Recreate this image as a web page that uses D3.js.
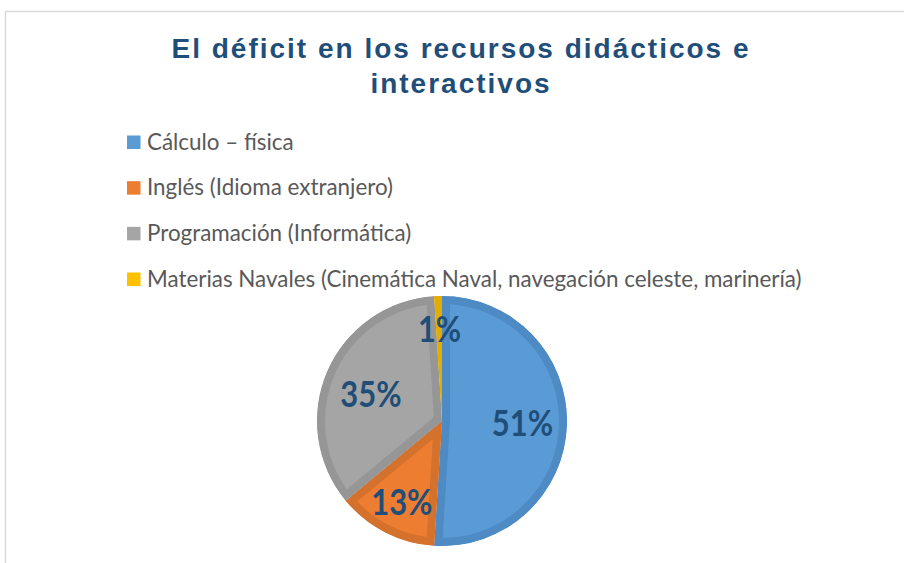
<!DOCTYPE html>
<html>
<head>
<meta charset="utf-8">
<script src="https://cdn.jsdelivr.net/npm/d3@7"></script>
<style>
  html, body { margin: 0; padding: 0; background: #fff; }
  svg { display: block; }
</style>
</head>
<body>
<svg id="chart" width="904" height="563"></svg>
<script>
// Categories and shares (percent)
const categories = [
  "Cálculo – física",
  "Inglés (Idioma extranjero)",
  "Programación (Informática)",
  "Materias Navales (Cinemática Naval, navegación celeste, marinería)"
];
const values = [51, 13, 35, 1];
const fillColors = ["#5B9BD5", "#ED7D31", "#A5A5A5", "#FFC000"];
const edgeColors = ["#4E8AC3", "#D3712D", "#969696", "#E3AC00"];
const titleLines = ["El déficit en los recursos didácticos e", "interactivos"];

const svg = d3.select("#chart");

// chart frame
svg.append("rect")
  .attr("x", 5.5).attr("y", 11.5)
  .attr("width", 920).attr("height", 600)
  .attr("fill", "#fff").attr("stroke", "#D9D9D9").attr("stroke-width", 1.5);

// title
svg.append("text")
  .attr("text-anchor", "middle")
  .attr("font-family", "Liberation Sans, Arial, sans-serif")
  .attr("font-weight", "bold")
  .attr("font-size", 28)
  .attr("letter-spacing", 2)
  .attr("fill", "#1F4E79")
  .selectAll("tspan").data(titleLines).join("tspan")
  .attr("x", 461)
  .attr("y", (d, i) => 58 + i * 35)
  .text(d => d);

// legend
const legend = svg.append("g").attr("transform", "translate(127,0)");
const rowY = d3.scalePoint().domain(d3.range(categories.length)).range([142, 279]);
const rows = legend.selectAll("g").data(categories).join("g")
  .attr("transform", (d, i) => `translate(0,${rowY(i)})`);
rows.append("rect")
  .attr("x", 0).attr("y", -6.5).attr("width", 13.5).attr("height", 13.5)
  .attr("fill", (d, i) => fillColors[i]);
rows.append("text")
  .attr("x", 20).attr("y", 0).attr("dy", "0.34em")
  .attr("font-family", "Lato, sans-serif")
  .attr("font-size", 22.4)
  .attr("fill", "#595959")
  .text(d => d);

// pie
const cx = 442, cy = 421, r = 125;
const pie = d3.pie().sort(null).value(d => d);
const arcs = pie(values);
const arc = d3.arc().innerRadius(0).outerRadius(r);
const g = svg.append("g").attr("transform", `translate(${cx},${cy})`);
const defs = svg.append("defs");

arcs.forEach((a, i) => {
  defs.append("clipPath").attr("id", "slice" + i)
    .append("path").attr("d", arc(a));
});

g.selectAll("path.slice").data(arcs).join("path")
  .attr("class", "slice")
  .attr("d", arc)
  .attr("fill", (d, i) => fillColors[i])
  .attr("stroke", (d, i) => edgeColors[i])
  .attr("stroke-width", 16)
  .attr("stroke-linejoin", "round")
  .attr("clip-path", (d, i) => `url(#slice${i})`);

// data labels
const labelArc = d3.arc().innerRadius(r * 0.62).outerRadius(r * 0.62);
const labelOffsets = [[3, 0], [-5, 12], [0, 4], [0, -14]];
g.selectAll("text.lbl").data(arcs).join("text")
  .attr("class", "lbl")
  .attr("transform", (d, i) => {
    const [x, y] = labelArc.centroid(d);
    return `translate(${x + labelOffsets[i][0]},${y + labelOffsets[i][1]}) scale(0.86,1)`;
  })
  .attr("text-anchor", "middle")
  .attr("dy", "0.35em")
  .attr("font-family", "Lato, sans-serif")
  .attr("font-weight", "bold")
  .attr("font-size", 36)
  .attr("fill", "#1F4E79")
  .text(d => d.data + "%");
</script>
</body>
</html>
